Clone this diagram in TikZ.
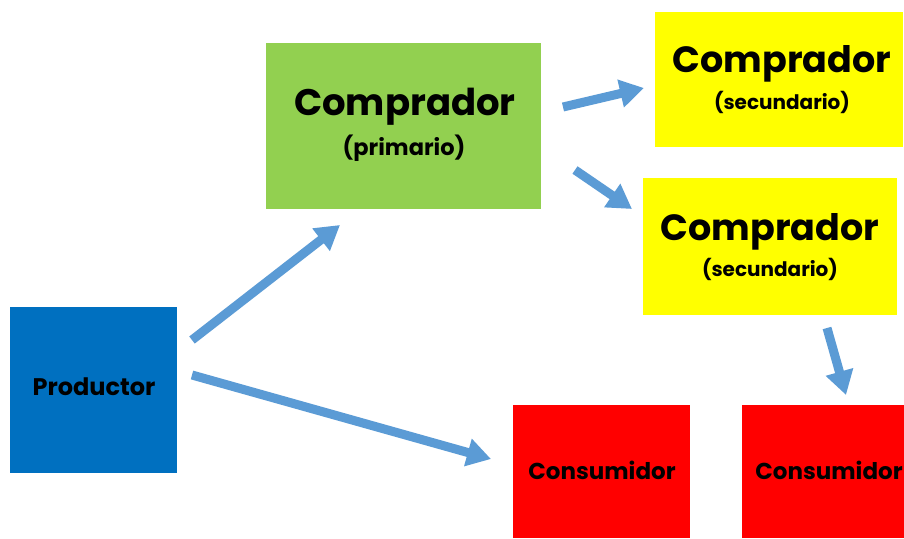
\documentclass[tikz,border=0pt]{standalone}
\usepackage{fontspec}
\setmainfont{Poppins}
\usetikzlibrary{arrows.meta}
\definecolor{prodblue}{HTML}{0070C0}
\definecolor{primgreen}{HTML}{92D050}
\definecolor{secyellow}{HTML}{FFFF00}
\definecolor{consred}{HTML}{FF0000}
\definecolor{arrowblue}{HTML}{5B9BD5}
\tikzset{
  box/.style={draw=none,inner sep=0pt},
  flow/.style={draw=arrowblue,line width=9pt,-{Triangle[length=24pt,width=27pt]}},
}
\begin{document}
\begin{tikzpicture}[x=1pt,y=-1pt]
\useasboundingbox[fill=white] (0,0) rectangle (904,538);
% boxes
\fill[prodblue] (10,307) rectangle (177,473);
\fill[primgreen] (266,43) rectangle (541,209);
\fill[secyellow] (655,12) rectangle (903,147);
\fill[secyellow] (643,178) rectangle (897,315);
\fill[consred] (513,405) rectangle (690,538);
\fill[consred] (742,405) rectangle (904,538);
% texts
\node[box] (prod) at (94,387) {\fontsize{24}{28}\selectfont\bfseries Productor};
\node[box] (prim) at (405,107) {\fontsize{37}{42}\selectfont\bfseries Comprador};
\node[box] (primsub) at (404,148) {\fontsize{22.5}{26}\selectfont\bfseries (primario)};
\node[box] (sec1) at (782,64) {\fontsize{36.5}{42}\selectfont\bfseries Comprador};
\node[box] (sec1sub) at (782,102) {\fontsize{20}{24}\selectfont\bfseries (secundario)};
\node[box] (sec2) at (770,232) {\fontsize{36.5}{42}\selectfont\bfseries Comprador};
\node[box] (sec2sub) at (770,269) {\fontsize{20}{24}\selectfont\bfseries (secundario)};
\node[box] (cons1) at (602,470) {\fontsize{23}{27}\selectfont\bfseries Consumidor};
\node[box] (cons2) at (829,470) {\fontsize{23}{27}\selectfont\bfseries Consumidor};
% arrow endpoints
\coordinate (a1s) at (192,340); \coordinate (a1e) at (340,225);
\coordinate (a2s) at (192,375); \coordinate (a2e) at (491,459);
\coordinate (a3s) at (563,107); \coordinate (a3e) at (644,88);
\coordinate (a4s) at (575,170); \coordinate (a4e) at (632,209);
\coordinate (a5s) at (827,328); \coordinate (a5e) at (846,395);
\draw[flow] (a1s) -- (a1e);
\draw[flow] (a2s) -- (a2e);
\draw[flow] (a3s) -- (a3e);
\draw[flow] (a4s) -- (a4e);
\draw[flow] (a5s) -- (a5e);
\end{tikzpicture}
\end{document}
